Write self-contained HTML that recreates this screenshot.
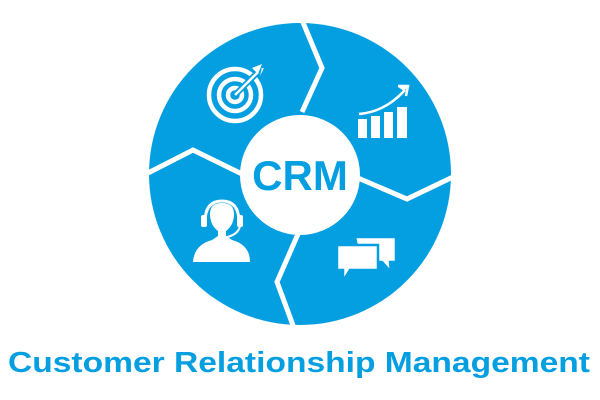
<!DOCTYPE html>
<html><head><style>html,body{margin:0;padding:0;background:#fff;width:600px;height:400px;overflow:hidden}</style></head>
<body>
<svg width="600" height="400" viewBox="0 0 600 400" xmlns="http://www.w3.org/2000/svg">
<circle cx="300" cy="174" r="151" fill="#049fe0"/>
<g stroke="#fff" stroke-width="5" fill="none" stroke-linejoin="miter">
<polyline points="302,20 322,68 302,112"/>
<polyline points="146,174 193,150 242,174"/>
<polyline points="358,178 407,199 455,176"/>
<polyline points="298,234 277,282 294,328"/>
</g>
<circle cx="300" cy="175" r="60" fill="#fff"/>
<text x="300" y="190" text-anchor="middle" font-family="Liberation Sans, sans-serif" font-weight="bold" font-size="42" fill="#049fe0">CRM</text>
<!-- target -->
<g fill="none" stroke="#fff" stroke-width="4.5">
<circle cx="235" cy="95" r="26"/>
<circle cx="235" cy="95" r="16"/>
<circle cx="235" cy="95" r="7"/>
</g>
<line x1="235" y1="95" x2="258" y2="72" stroke="#049fe0" stroke-width="6"/>
<line x1="235" y1="95" x2="258" y2="72" stroke="#fff" stroke-width="2.5"/>
<polygon points="254,70 262,68 260,76 264,68 258,69" fill="#fff"/>
<path d="M252,68 L262,64 L258,74 Z" fill="#fff"/>
<!-- chart -->
<g fill="#fff">
<rect x="358" y="119" width="9" height="19"/>
<rect x="371" y="116" width="9" height="22"/>
<rect x="384" y="112" width="9" height="26"/>
<rect x="397" y="107" width="10" height="31"/>
<path d="M408,87 L398,87 L404,91 Z"/>
</g>
<path d="M359,114 Q385,112 405,90" stroke="#fff" stroke-width="2.5" fill="none"/>
<path d="M398,86 L408,86 L406,96" stroke="#fff" stroke-width="2.5" fill="none"/>
<!-- headset person -->
<g fill="#fff">
<path d="M193,262 Q194,245 212,240 L218,236 L218,231 Q210,225 210,214 Q210,203 222,203 Q234,203 234,214 Q234,225 226,231 L226,236 L232,240 Q250,245 250,262 Z"/>
</g>
<path d="M205,222 Q205,201 222,201 Q239,201 239,222" stroke="#fff" stroke-width="3" fill="none"/>
<rect x="201" y="215" width="6" height="12" rx="2" fill="#fff"/>
<rect x="237" y="215" width="6" height="12" rx="2" fill="#fff"/>
<path d="M240,226 Q238,236 222,238" stroke="#fff" stroke-width="2" fill="none"/>
<!-- chat -->
<g fill="#fff" stroke="#049fe0" stroke-width="2.5">
<path d="M355,237 L396,237 L396,262 L390,262 L391,272 L382,262 L360,262 Z"/>
<path d="M337,245 L378,245 L378,270 L350,270 L343,281 L343,270 L337,270 Z"/>
</g>
<text x="8" y="372" textLength="582" lengthAdjust="spacingAndGlyphs" font-family="Liberation Sans, sans-serif" font-weight="bold" font-size="29" fill="#049fe0">Customer Relationship Management</text>
</svg>
</body></html>
